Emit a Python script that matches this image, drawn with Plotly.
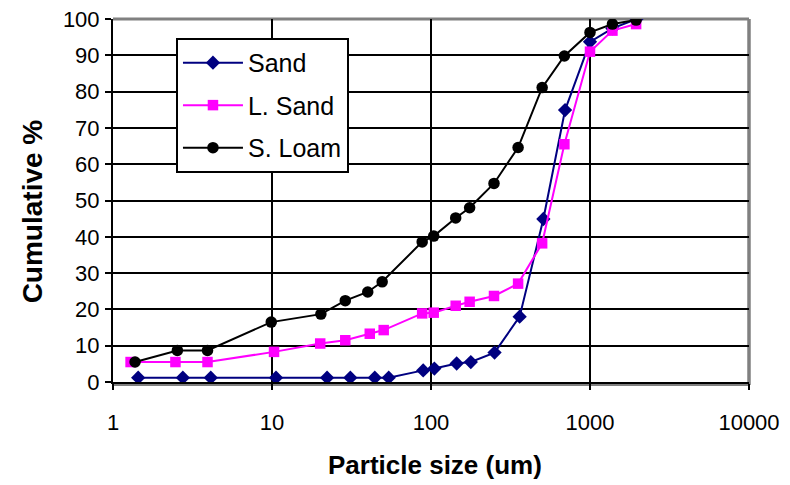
import plotly.graph_objects as go

# Data
sand_x = [1.44, 2.75, 4.12, 10.6, 22.2, 31.1, 44.3, 54.2, 89.3, 105, 145, 178, 251, 361, 509, 697, 1000, 1384, 1962]
sand_y = [1.2, 1.2, 1.2, 1.2, 1.2, 1.2, 1.2, 1.2, 3.2, 3.7, 5.1, 5.5, 8.1, 18.0, 44.9, 74.9, 93.7, 97.4, 100]

lsand_x = [1.29, 2.47, 3.93, 10.3, 20.1, 28.9, 41.2, 50.4, 88, 104, 143, 175, 249, 353, 500, 690, 1000, 1384, 1950]
lsand_y = [5.5, 5.5, 5.5, 8.3, 10.6, 11.5, 13.3, 14.3, 18.9, 19.1, 21.0, 22.1, 23.7, 27.1, 38.2, 65.5, 91.0, 96.8, 98.6]

sloam_x = [1.376, 2.54, 3.93, 9.89, 20.3, 28.9, 40, 49.3, 88, 104, 143, 175, 249, 353, 500, 690, 1000, 1384, 1950]
sloam_y = [5.5, 8.7, 8.7, 16.5, 18.7, 22.4, 24.8, 27.6, 38.6, 40.2, 45.2, 48.0, 54.7, 64.6, 81.1, 89.8, 96.3, 98.6, 99.7]

x_ticks = [1, 10, 100, 1000, 10000]
x_tick_labels = ["1", "10", "100", "1000", "10000"]
y_ticks = list(range(0, 101, 10))

x_title = "Particle size (um)"
y_title = "Cumulative %"

FONT = "Liberation Sans, Arial, sans-serif"

fig = go.Figure()
fig.add_trace(go.Scatter(x=sand_x, y=sand_y, name="Sand", mode="lines+markers",
                         legendgroup="a",
                         line=dict(color="#000080", width=2),
                         marker=dict(symbol="diamond", size=11, color="#000080")))
fig.add_trace(go.Scatter(x=lsand_x, y=lsand_y, name="L. Sand", mode="lines+markers",
                         legendgroup="b",
                         line=dict(color="#FF00FF", width=2),
                         marker=dict(symbol="square", size=10.5, color="#FF00FF")))
fig.add_trace(go.Scatter(x=sloam_x, y=sloam_y, name="S. Loam", mode="lines+markers",
                         legendgroup="c",
                         line=dict(color="#000000", width=2),
                         marker=dict(symbol="circle", size=11.5, color="#000000")))

# The page body has an 8px margin, so the figure is made 8px smaller and shifted.
fig.update_layout(
    width=782, height=477,
    margin=dict(l=105, r=41, t=11, b=103, autoexpand=False),
    paper_bgcolor="white", plot_bgcolor="white",
    font=dict(family=FONT, size=22, color="black"),
    showlegend=True,
    legend=dict(x=0.099, y=0.948, xanchor="left", yanchor="top",
                bgcolor="white", bordercolor="black", borderwidth=2,
                font=dict(family=FONT, size=25, color="black"),
                traceorder="grouped", tracegroupgap=7,
                itemwidth=60),
    xaxis=dict(type="log", range=[0, 4], tickvals=x_ticks, ticktext=x_tick_labels,
               automargin=False, ticklabeloverflow="allow",
               showgrid=True, gridcolor="black", gridwidth=1.8,
               showline=True, linecolor="black", linewidth=2,
               ticks="outside", ticklen=6, tickcolor="black", tickwidth=1.5,
               ticklabelstandoff=14,
               tickfont=dict(family=FONT, size=22),
               zeroline=False),
    yaxis=dict(range=[0, 100], tickvals=y_ticks,
               automargin=False, ticklabeloverflow="allow",
               showgrid=True, gridcolor="black", gridwidth=1.8,
               showline=True, linecolor="black", linewidth=2,
               ticks="outside", ticklen=6, tickcolor="black", tickwidth=1.5,
               ticklabelstandoff=1,
               tickfont=dict(family=FONT, size=22),
               zeroline=False),
    annotations=[
        dict(text="<b>" + x_title + "</b>", xref="paper", yref="paper",
             x=0.507, y=-0.228, xanchor="center", yanchor="middle",
             showarrow=False, font=dict(family=FONT, size=26, color="black")),
        dict(text="<b>" + y_title + "</b>", xref="paper", yref="paper",
             x=-0.1274, y=0.47, xanchor="center", yanchor="middle", textangle=-90,
             showarrow=False, font=dict(family=FONT, size=28, color="black")),
    ],
    shapes=[
        dict(type="line", xref="paper", yref="paper", x0=0, x1=1, y0=1, y1=1,
             line=dict(color="#808080", width=3), layer="between"),
        dict(type="line", xref="paper", yref="paper", x0=1, x1=1, y0=-0.008, y1=1,
             line=dict(color="#808080", width=3.5), layer="between"),
        dict(type="line", xref="paper", yref="paper", x0=0, x1=1, y0=-0.008, y1=-0.008,
             line=dict(color="#808080", width=2), layer="below"),
    ],
)

fig.write_html("out.html")
